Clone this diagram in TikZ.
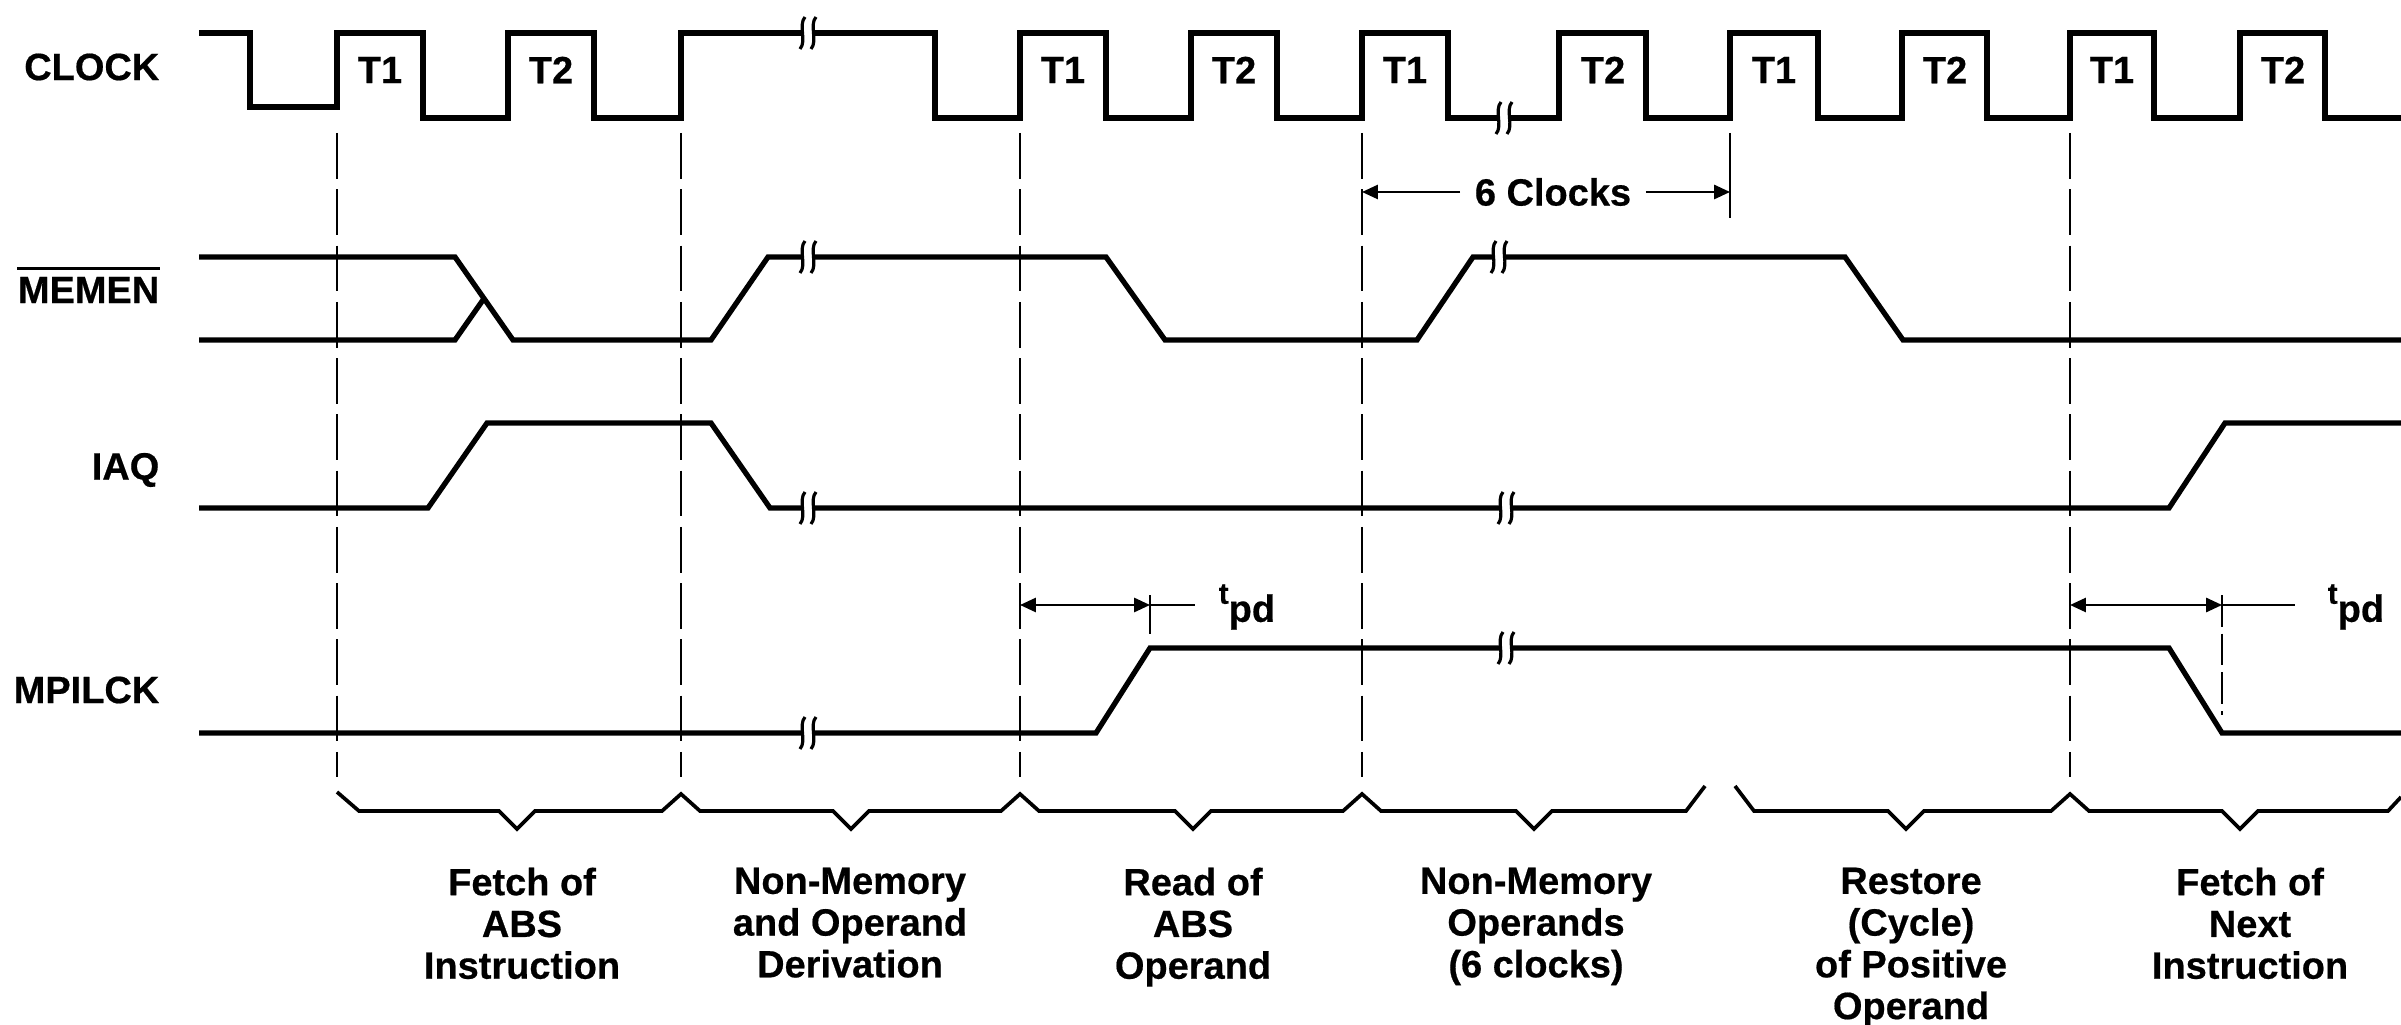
\documentclass[tikz,border=0pt]{standalone}
\usepackage{fontspec}
\setmainfont{Liberation Sans}[BoldFeatures={FakeBold=0.5}]
\usetikzlibrary{arrows.meta}
\begin{document}
\begin{tikzpicture}[x=0.01cm,y=-0.01cm,
  >={Triangle[length=4.5pt,width=4pt]},
  sig/.style={line width=1.5pt,line join=miter},
  guide/.style={line width=0.8pt,dash pattern=on 13pt off 3pt},
  bracel/.style={line width=1.05pt,line join=miter},
  dim/.style={line width=0.65pt},
  lbl/.style={font=\fontsize{10.8}{11.87}\selectfont\bfseries,inner sep=0pt},
  brk/.pic={
    \fill[white] (-4,-12) rectangle (4,12);
    \draw[line width=0.9pt] (-8,16) .. controls (-1,8) and (-10,-8) .. (-3,-16);
    \draw[line width=0.9pt] (3,16) .. controls (10,8) and (1,-8) .. (8,-16);
  }]
\useasboundingbox (0,0) rectangle (2401,1025);

% signal names
\node[lbl,anchor=east] (lclk) at (160,67) {CLOCK};
\node[lbl,anchor=east] (lmem) at (160,290) {MEMEN};
\draw[line width=0.9pt] ([yshift=2.2pt]lmem.north west) -- ([yshift=2.2pt]lmem.north east);
\node[lbl,anchor=east] (liaq) at (160,470) {IAQ};
\node[lbl,anchor=east] (lmpi) at (160,690) {MPILCK};

% guides
\foreach \gx in {337,681,1020,1362,2070}
  \draw[guide] (\gx,133) -- (\gx,777);

% CLOCK
\draw[sig] (199,33) -- (250,33) -- (250,107) -- (337,107) -- (337,33) -- (423,33) -- (423,118)
  -- (508,118) -- (508,33) -- (594,33) -- (594,118) -- (681,118) -- (681,33) -- (935,33)
  -- (935,118) -- (1020,118) -- (1020,33) -- (1106,33) -- (1106,118) -- (1191,118) -- (1191,33)
  -- (1277,33) -- (1277,118) -- (1362,118) -- (1362,33) -- (1448,33) -- (1448,118) -- (1559,118)
  -- (1559,33) -- (1646,33) -- (1646,118) -- (1730,118) -- (1730,33) -- (1818,33) -- (1818,118)
  -- (1902,118) -- (1902,33) -- (1987,33) -- (1987,118) -- (2070,118) -- (2070,33) -- (2154,33)
  -- (2154,118) -- (2240,118) -- (2240,33) -- (2325,33) -- (2325,118) -- (2401,118);
\foreach \tx/\tl [count=\i] in {380/T1,551/T2,1063/T1,1234/T2,1405/T1,1603/T2,1774/T1,1945/T2,2112/T1,2283/T2}
  \node[lbl] (t\i) at (\tx,70) {\tl};

% 6 clocks
\coordinate (c6a) at (1362,192);
\coordinate (c6b) at (1730,192);
\node[lbl] (six) at (1553,192) {6 Clocks};
\draw[dim,->] ([xshift=-4pt]six.west) -- (c6a);
\draw[dim,->] ([xshift=4pt]six.east) -- (c6b);
\draw[dim] (1730,133) -- (1730,218);

% MEMEN
\draw[sig] (199,257) -- (455,257) -- (513,340) -- (711,340) -- (768,257) -- (1106,257) -- (1165,340)
  -- (1417,340) -- (1473,257) -- (1845,257) -- (1903,340) -- (2401,340);
\draw[sig] (199,340) -- (455,340) -- (484,298.5);

% IAQ
\draw[sig] (199,508) -- (428,508) -- (487,423) -- (711,423) -- (770,508) -- (2169,508) -- (2225,423) -- (2401,423);

% MPILCK
\draw[sig] (199,733) -- (1096,733) -- (1150,648) -- (2169,648) -- (2222,733) -- (2401,733);

% breaks
\pic at (808,33) {brk};
\pic at (1504,118) {brk};
\pic at (808,257) {brk};
\pic at (1499,257) {brk};
\pic at (808,508) {brk};
\pic at (1506,508) {brk};
\pic at (808,733) {brk};
\pic at (1506,648) {brk};

% tpd 1
\coordinate (p1a) at (1020,605);
\coordinate (p1b) at (1150,605);
\draw[dim,<->] (p1a) -- (p1b);
\node[lbl,anchor=west] (tpd1) at (1218,607) {{\fontsize{8.5}{9}\selectfont t}\raisebox{-0.9ex}{pd}};
\draw[dim] (p1b) -- ([xshift=-6.5pt]tpd1.west |- p1b);
\draw[dim] (1150,595) -- (1150,634);

% tpd 2
\coordinate (p2a) at (2070,605);
\coordinate (p2b) at (2222,605);
\draw[dim,<->] (p2a) -- (p2b);
\node[lbl,anchor=west] (tpd2) at (2327,607) {{\fontsize{8.5}{9}\selectfont t}\raisebox{-0.9ex}{pd}};
\draw[dim] (p2b) -- ([xshift=-9pt]tpd2.west |- p2b);
\draw[dim,dash pattern=on 9pt off 2pt] (2222,595) -- (2222,715);

% braces
\draw[bracel] (337,792) -- (359,811) -- (499,811) -- (517,829) -- (535,811) -- (662,811) -- (681,794)
  -- (700,811) -- (833,811) -- (851,829) -- (869,811) -- (1001,811) -- (1020,794) -- (1039,811)
  -- (1175,811) -- (1193,829) -- (1211,811) -- (1343,811) -- (1362,794) -- (1381,811)
  -- (1516,811) -- (1534,829) -- (1552,811) -- (1686,811) -- (1705,786);
\draw[bracel] (1735,786) -- (1754,811) -- (1888,811) -- (1906,829) -- (1924,811) -- (2051,811)
  -- (2070,794) -- (2089,811) -- (2222,811) -- (2240,829) -- (2258,811) -- (2388,811) -- (2401,797);

% phase descriptions
\node[lbl,align=center,anchor=north] (d1) at (522,867) {Fetch of\\ABS\\Instruction};
\node[lbl,align=center,anchor=north] (d2) at (850,867) {Non-Memory\\and Operand\\Derivation};
\node[lbl,align=center,anchor=north] (d3) at (1193,867) {Read of\\ABS\\Operand};
\node[lbl,align=center,anchor=north] (d4) at (1536,867) {Non-Memory\\Operands\\(6 clocks)};
\node[lbl,align=center,anchor=north] (d5) at (1911,867) {Restore\\(Cycle)\\of Positive\\Operand};
\node[lbl,align=center,anchor=north] (d6) at (2250,867) {Fetch of\\Next\\Instruction};
\end{tikzpicture}
\end{document}
